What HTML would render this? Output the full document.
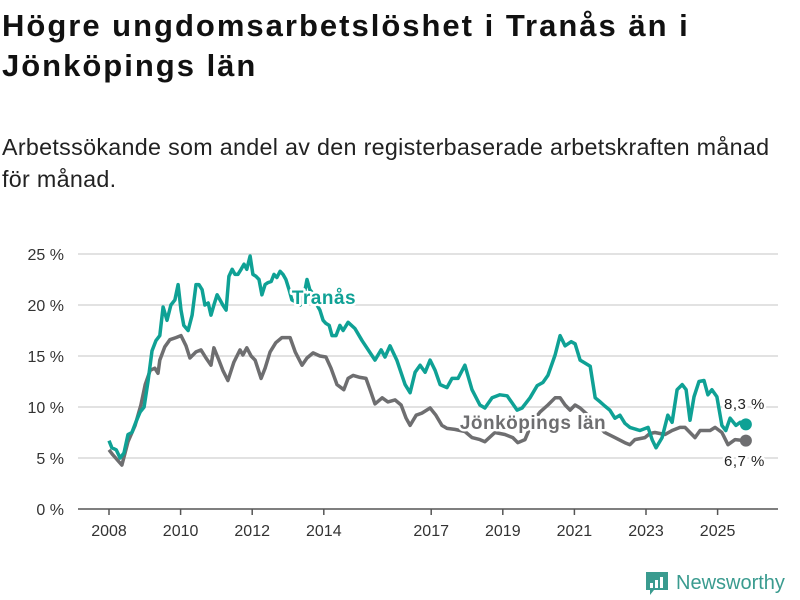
<!DOCTYPE html>
<html><head><meta charset="utf-8"><style>
body{margin:0;background:#fff;font-family:"Liberation Sans",sans-serif;}
#wrap{position:relative;width:800px;height:600px;overflow:hidden}
h1{position:absolute;left:2px;top:6px;margin:0;font-size:31px;line-height:40px;font-weight:bold;color:#111;width:798px;letter-spacing:2px;white-space:nowrap}
p.sub{position:absolute;left:2px;top:131px;margin:0;font-size:23.3px;line-height:32px;color:#222;width:798px;letter-spacing:0.3px;white-space:nowrap}
</style></head><body>
<div id="wrap">
<h1>Högre ungdomsarbetslöshet i Tranås än i<br>Jönköpings län</h1>
<p class="sub">Arbetssökande som andel av den registerbaserade arbetskraften månad<br>för månad.</p>
<svg id="chart" width="800" height="600" style="position:absolute;left:0;top:0"></svg>
</div>
<script>
const yTicks=[0,5,10,15,20,25];
const yTickLabels=["0 %","5 %","10 %","15 %","20 %","25 %"];
const xTicks=[2008,2010,2012,2014,2017,2019,2021,2023,2025];
const tranasDates=[2008.00,2008.08,2008.20,2008.31,2008.42,2008.53,2008.64,2008.75,2008.87,2008.98,2009.09,2009.20,2009.31,2009.42,2009.51,2009.62,2009.73,2009.84,2009.93,2010.01,2010.09,2010.21,2010.32,2010.43,2010.51,2010.60,2010.68,2010.77,2010.85,2010.93,2011.02,2011.10,2011.18,2011.27,2011.35,2011.44,2011.52,2011.60,2011.69,2011.77,2011.85,2011.94,2012.02,2012.11,2012.19,2012.27,2012.36,2012.44,2012.53,2012.61,2012.69,2012.78,2012.86,2012.94,2013.03,2013.11,2013.22,2013.34,2013.45,2013.53,2013.61,2013.73,2013.81,2013.89,2013.98,2014.06,2014.15,2014.23,2014.34,2014.45,2014.54,2014.68,2014.87,2015.07,2015.43,2015.60,2015.71,2015.85,2016.04,2016.27,2016.41,2016.55,2016.69,2016.83,2016.97,2017.11,2017.25,2017.44,2017.58,2017.75,2017.94,2018.14,2018.36,2018.50,2018.70,2018.92,2019.12,2019.26,2019.40,2019.54,2019.76,2019.96,2020.12,2020.26,2020.46,2020.60,2020.74,2020.91,2021.02,2021.16,2021.30,2021.44,2021.58,2021.72,2021.85,2021.99,2022.13,2022.27,2022.41,2022.55,2022.83,2023.06,2023.17,2023.28,2023.45,2023.61,2023.73,2023.87,2024.01,2024.12,2024.23,2024.34,2024.48,2024.62,2024.73,2024.84,2024.98,2025.12,2025.23,2025.35,2025.51,2025.63,2025.79];
const tranasValues=[6.7,6.0,5.8,5.0,5.5,7.3,7.5,8.5,9.5,10.0,12.5,15.5,16.5,17.0,19.8,18.5,20.0,20.5,22.0,19.5,18.0,17.5,19.0,22.0,22.0,21.5,20.0,20.2,19.0,20.0,21.0,20.5,20.0,19.5,22.8,23.5,23.0,23.0,23.5,24.0,23.5,24.8,23.0,22.8,22.5,21.0,22.0,22.2,22.3,23.0,22.7,23.3,23.0,22.5,21.5,20.5,20.3,20.0,21.0,22.5,21.5,21.0,20.0,19.5,18.5,18.2,18.0,17.0,17.0,18.0,17.5,18.3,17.7,16.5,14.6,15.6,14.9,16.0,14.6,12.2,11.4,13.4,14.1,13.4,14.6,13.6,12.2,11.9,12.8,12.8,14.1,11.7,10.2,9.9,10.9,11.2,11.1,10.4,9.7,9.9,10.9,12.1,12.4,13.1,15.1,17.0,16.0,16.4,16.2,14.6,14.3,14.0,10.9,10.5,10.1,9.7,8.9,9.2,8.4,8.0,7.7,8.0,6.8,6.0,7.0,9.2,8.5,11.7,12.2,11.7,8.7,11.0,12.5,12.6,11.2,11.7,11.0,8.2,7.7,8.9,8.2,8.5,8.3];
const jkpDates=[2008.00,2008.11,2008.36,2008.53,2008.73,2008.89,2009.01,2009.15,2009.28,2009.37,2009.42,2009.56,2009.70,2009.87,2010.01,2010.15,2010.26,2010.43,2010.57,2010.71,2010.85,2010.93,2011.07,2011.18,2011.32,2011.49,2011.66,2011.74,2011.85,2011.97,2012.08,2012.25,2012.36,2012.50,2012.66,2012.83,2013.06,2013.20,2013.39,2013.53,2013.70,2013.89,2014.06,2014.20,2014.37,2014.56,2014.68,2014.82,2015.01,2015.18,2015.32,2015.43,2015.63,2015.79,2015.99,2016.16,2016.30,2016.41,2016.58,2016.74,2016.97,2017.13,2017.30,2017.44,2017.66,2017.94,2018.14,2018.36,2018.50,2018.78,2019.06,2019.28,2019.42,2019.62,2019.82,2020.04,2020.26,2020.46,2020.60,2020.74,2020.88,2021.02,2021.16,2021.44,2021.85,2022.13,2022.41,2022.55,2022.69,2022.97,2023.11,2023.25,2023.53,2023.73,2023.95,2024.09,2024.23,2024.37,2024.51,2024.79,2024.93,2025.12,2025.29,2025.49,2025.79];
const jkpValues=[5.8,5.3,4.3,6.6,8.2,10.2,12.2,13.6,13.8,13.3,14.6,15.9,16.6,16.8,17.0,16.0,14.8,15.4,15.6,14.8,14.1,15.8,14.6,13.6,12.6,14.4,15.6,15.1,15.8,15.0,14.6,12.8,13.8,15.4,16.3,16.8,16.8,15.4,14.1,14.8,15.3,15.0,14.9,13.8,12.2,11.7,12.8,13.1,12.9,12.8,11.4,10.3,10.9,10.5,10.7,10.2,8.9,8.2,9.2,9.4,9.9,9.2,8.2,7.9,7.8,7.6,7.0,6.8,6.6,7.5,7.3,7.0,6.5,6.8,8.5,9.5,10.2,10.9,10.9,10.2,9.7,10.2,9.9,9.0,7.5,7.0,6.5,6.3,6.8,7.0,7.4,7.5,7.3,7.7,8.0,8.0,7.5,7.0,7.7,7.7,8.0,7.5,6.3,6.8,6.7];

const NS="http://www.w3.org/2000/svg";
const svg=document.getElementById('chart');
const X0=109,XPY=35.8,Y0=509,YPP=10.2;
const xs=d=>X0+(d-2008)*XPY;
const ys=v=>Y0-v*YPP;
function mk(tag,attrs,parent){const e=document.createElementNS(NS,tag);for(const k in attrs)e.setAttribute(k,attrs[k]);(parent||svg).appendChild(e);return e;}

yTicks.forEach((t,i)=>{
  const g=mk('line',{x1:78,x2:778,y1:ys(t),y2:ys(t),stroke:t===0?'#555':'#d8d8d8','stroke-width':1.5});
  
  
  const tx=mk('text',{x:64,y:ys(t)+6,'text-anchor':'end','font-size':16,fill:'#333'});
  tx.textContent=yTickLabels[i];
  
  
});
xTicks.forEach(t=>{
  const l=mk('line',{x1:xs(t),x2:xs(t),y1:Y0,y2:Y0+6,stroke:'#555','stroke-width':1.5});
  
  
  const tx=mk('text',{x:xs(t),y:Y0+27,'text-anchor':'middle','font-size':16,fill:'#333'});
  tx.textContent=String(t);
  
  
});
function path(dates,vals){return dates.map((d,i)=>(i?'L':'M')+xs(d).toFixed(1)+','+ys(vals[i]).toFixed(1)).join(' ');}
const pj=mk('path',{d:path(jkpDates,jkpValues),fill:'none',stroke:'#6e6e70','stroke-width':3.5,'stroke-linejoin':'round'});


const pt=mk('path',{d:path(tranasDates,tranasValues),fill:'none',stroke:'#0fa195','stroke-width':3.5,'stroke-linejoin':'round'});


const lastT=tranasValues.length-1,lastJ=jkpValues.length-1;
const dt=mk('circle',{cx:xs(tranasDates[lastT]),cy:ys(tranasValues[lastT]),r:6,fill:'#0fa195'});


const dj=mk('circle',{cx:xs(jkpDates[lastJ]),cy:ys(jkpValues[lastJ]),r:6,fill:'#6e6e70'});


function label(txt,x,y,fill,size,bold,anchor,name){
  const t=mk('text',{x:x,y:y,'font-size':size,'font-weight':bold?'bold':'normal',fill:fill,'text-anchor':anchor,stroke:'#fff','stroke-width':5,'paint-order':'stroke','stroke-linejoin':'round','letter-spacing':0.5});
  t.textContent=txt;
  
  
}
label('Tranås',324,304,'#0fa195',19,true,'middle','tranas-series-label');
label('Jönköpings län',533,429,'#6e6e70',19,true,'middle','jonkoping-series-label');
label('8,3 %',724,409,'#222',15,false,'start','tranas-end-value');
label('6,7 %',724,466,'#222',15,false,'start','jonkoping-end-value');
const lg=mk('g',{});


mk('path',{d:'M646,572 h22 v18 h-14 l-4,5 v-5 h-4 z',fill:'#3a9b8f'},lg);
mk('rect',{x:650,y:583,width:3,height:5,fill:'#fff'},lg);
mk('rect',{x:655,y:580,width:3,height:8,fill:'#fff'},lg);
mk('rect',{x:660,y:577,width:3,height:11,fill:'#fff'},lg);
const lt=mk('text',{x:676,y:589,'font-size':20,fill:'#3a9b8f'},lg);
lt.textContent='Newsworthy';
</script>
</body></html>
